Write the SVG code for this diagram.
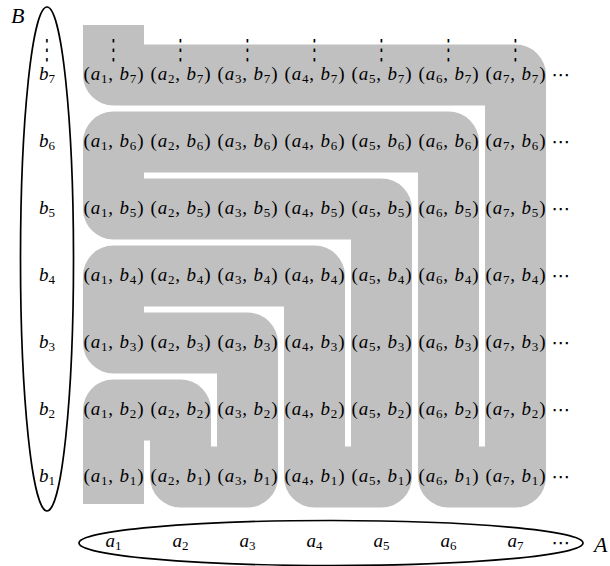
<svg xmlns="http://www.w3.org/2000/svg" width="610" height="566" viewBox="0 0 610 566">
<style>
.c{font-family:"Liberation Serif",serif;font-size:19px;text-anchor:middle;fill:#000}
.i{font-style:italic}
.s{font-size:13px;font-style:normal}
.d{font-family:"DejaVu Sans",sans-serif;font-size:16px;text-anchor:middle;fill:#000}
.h{font-family:"DejaVu Sans",sans-serif;font-size:19px;text-anchor:middle;fill:#000}
.big{font-family:"Liberation Serif",serif;font-size:22px;font-style:italic;fill:#000}
.ell{fill:none;stroke:#000;stroke-width:1.7}
</style>
<rect width="610" height="566" fill="#fff"/>
<g id="connectors">
<path id="band" d="M113.5,504 V410 H180.5 V477 H247.5 V343 H113.5 V276 H314.5 V477 H381.5 V209 H113.5 V142 H448.5 V477 H515.5 V75 H113.5 V25" fill="none" stroke="#c0c0c0" stroke-width="61" stroke-linejoin="round" stroke-linecap="butt"/>
</g>
<g id="setB">
<ellipse class="ell" cx="47" cy="259" rx="26.5" ry="252"/>
<text class="big" x="11" y="23">B</text>
<text class="d" transform="translate(47,0) scale(1,1.75)" x="0" y="33.6">⋮</text>
<text class="c" x="47" y="80"><tspan class="i">b</tspan><tspan class="s" dy="3">7</tspan></text>
<text class="c" x="47" y="147"><tspan class="i">b</tspan><tspan class="s" dy="3">6</tspan></text>
<text class="c" x="47" y="214"><tspan class="i">b</tspan><tspan class="s" dy="3">5</tspan></text>
<text class="c" x="47" y="281"><tspan class="i">b</tspan><tspan class="s" dy="3">4</tspan></text>
<text class="c" x="47" y="348"><tspan class="i">b</tspan><tspan class="s" dy="3">3</tspan></text>
<text class="c" x="47" y="415"><tspan class="i">b</tspan><tspan class="s" dy="3">2</tspan></text>
<text class="c" x="47" y="482"><tspan class="i">b</tspan><tspan class="s" dy="3">1</tspan></text>
</g>
<g id="setA">
<ellipse class="ell" cx="331" cy="543" rx="252" ry="22.5"/>
<text class="big" x="594" y="552">A</text>
<text class="c" x="113.5" y="547"><tspan class="i">a</tspan><tspan class="s" dy="3">1</tspan></text>
<text class="c" x="180.5" y="547"><tspan class="i">a</tspan><tspan class="s" dy="3">2</tspan></text>
<text class="c" x="247.5" y="547"><tspan class="i">a</tspan><tspan class="s" dy="3">3</tspan></text>
<text class="c" x="314.5" y="547"><tspan class="i">a</tspan><tspan class="s" dy="3">4</tspan></text>
<text class="c" x="381.5" y="547"><tspan class="i">a</tspan><tspan class="s" dy="3">5</tspan></text>
<text class="c" x="448.5" y="547"><tspan class="i">a</tspan><tspan class="s" dy="3">6</tspan></text>
<text class="c" x="515.5" y="547"><tspan class="i">a</tspan><tspan class="s" dy="3">7</tspan></text>
<text class="h" x="561" y="549">⋯</text>
</g>
<g id="topdots">
<text class="d" transform="translate(113.5,0) scale(1,1.75)" x="0" y="33.6">⋮</text>
<text class="d" transform="translate(180.5,0) scale(1,1.75)" x="0" y="33.6">⋮</text>
<text class="d" transform="translate(247.5,0) scale(1,1.75)" x="0" y="33.6">⋮</text>
<text class="d" transform="translate(314.5,0) scale(1,1.75)" x="0" y="33.6">⋮</text>
<text class="d" transform="translate(381.5,0) scale(1,1.75)" x="0" y="33.6">⋮</text>
<text class="d" transform="translate(448.5,0) scale(1,1.75)" x="0" y="33.6">⋮</text>
<text class="d" transform="translate(515.5,0) scale(1,1.75)" x="0" y="33.6">⋮</text>
</g>
<g id="rightdots">
<text class="h" x="561" y="81">⋯</text>
<text class="h" x="561" y="148">⋯</text>
<text class="h" x="561" y="215">⋯</text>
<text class="h" x="561" y="282">⋯</text>
<text class="h" x="561" y="349">⋯</text>
<text class="h" x="561" y="416">⋯</text>
<text class="h" x="561" y="483">⋯</text>
</g>
<g id="row7">
<text id="a1b7" class="c" x="113.5" y="80" textLength="60">(<tspan class="i">a</tspan><tspan class="s" dy="3">1</tspan><tspan dy="-3">, </tspan><tspan class="i">b</tspan><tspan class="s" dy="3">7</tspan><tspan dy="-3">)</tspan></text>
<text id="a2b7" class="c" x="180.5" y="80" textLength="60">(<tspan class="i">a</tspan><tspan class="s" dy="3">2</tspan><tspan dy="-3">, </tspan><tspan class="i">b</tspan><tspan class="s" dy="3">7</tspan><tspan dy="-3">)</tspan></text>
<text id="a3b7" class="c" x="247.5" y="80" textLength="60">(<tspan class="i">a</tspan><tspan class="s" dy="3">3</tspan><tspan dy="-3">, </tspan><tspan class="i">b</tspan><tspan class="s" dy="3">7</tspan><tspan dy="-3">)</tspan></text>
<text id="a4b7" class="c" x="314.5" y="80" textLength="60">(<tspan class="i">a</tspan><tspan class="s" dy="3">4</tspan><tspan dy="-3">, </tspan><tspan class="i">b</tspan><tspan class="s" dy="3">7</tspan><tspan dy="-3">)</tspan></text>
<text id="a5b7" class="c" x="381.5" y="80" textLength="60">(<tspan class="i">a</tspan><tspan class="s" dy="3">5</tspan><tspan dy="-3">, </tspan><tspan class="i">b</tspan><tspan class="s" dy="3">7</tspan><tspan dy="-3">)</tspan></text>
<text id="a6b7" class="c" x="448.5" y="80" textLength="60">(<tspan class="i">a</tspan><tspan class="s" dy="3">6</tspan><tspan dy="-3">, </tspan><tspan class="i">b</tspan><tspan class="s" dy="3">7</tspan><tspan dy="-3">)</tspan></text>
<text id="a7b7" class="c" x="515.5" y="80" textLength="60">(<tspan class="i">a</tspan><tspan class="s" dy="3">7</tspan><tspan dy="-3">, </tspan><tspan class="i">b</tspan><tspan class="s" dy="3">7</tspan><tspan dy="-3">)</tspan></text>
</g>
<g id="row6">
<text id="a1b6" class="c" x="113.5" y="147" textLength="60">(<tspan class="i">a</tspan><tspan class="s" dy="3">1</tspan><tspan dy="-3">, </tspan><tspan class="i">b</tspan><tspan class="s" dy="3">6</tspan><tspan dy="-3">)</tspan></text>
<text id="a2b6" class="c" x="180.5" y="147" textLength="60">(<tspan class="i">a</tspan><tspan class="s" dy="3">2</tspan><tspan dy="-3">, </tspan><tspan class="i">b</tspan><tspan class="s" dy="3">6</tspan><tspan dy="-3">)</tspan></text>
<text id="a3b6" class="c" x="247.5" y="147" textLength="60">(<tspan class="i">a</tspan><tspan class="s" dy="3">3</tspan><tspan dy="-3">, </tspan><tspan class="i">b</tspan><tspan class="s" dy="3">6</tspan><tspan dy="-3">)</tspan></text>
<text id="a4b6" class="c" x="314.5" y="147" textLength="60">(<tspan class="i">a</tspan><tspan class="s" dy="3">4</tspan><tspan dy="-3">, </tspan><tspan class="i">b</tspan><tspan class="s" dy="3">6</tspan><tspan dy="-3">)</tspan></text>
<text id="a5b6" class="c" x="381.5" y="147" textLength="60">(<tspan class="i">a</tspan><tspan class="s" dy="3">5</tspan><tspan dy="-3">, </tspan><tspan class="i">b</tspan><tspan class="s" dy="3">6</tspan><tspan dy="-3">)</tspan></text>
<text id="a6b6" class="c" x="448.5" y="147" textLength="60">(<tspan class="i">a</tspan><tspan class="s" dy="3">6</tspan><tspan dy="-3">, </tspan><tspan class="i">b</tspan><tspan class="s" dy="3">6</tspan><tspan dy="-3">)</tspan></text>
<text id="a7b6" class="c" x="515.5" y="147" textLength="60">(<tspan class="i">a</tspan><tspan class="s" dy="3">7</tspan><tspan dy="-3">, </tspan><tspan class="i">b</tspan><tspan class="s" dy="3">6</tspan><tspan dy="-3">)</tspan></text>
</g>
<g id="row5">
<text id="a1b5" class="c" x="113.5" y="214" textLength="60">(<tspan class="i">a</tspan><tspan class="s" dy="3">1</tspan><tspan dy="-3">, </tspan><tspan class="i">b</tspan><tspan class="s" dy="3">5</tspan><tspan dy="-3">)</tspan></text>
<text id="a2b5" class="c" x="180.5" y="214" textLength="60">(<tspan class="i">a</tspan><tspan class="s" dy="3">2</tspan><tspan dy="-3">, </tspan><tspan class="i">b</tspan><tspan class="s" dy="3">5</tspan><tspan dy="-3">)</tspan></text>
<text id="a3b5" class="c" x="247.5" y="214" textLength="60">(<tspan class="i">a</tspan><tspan class="s" dy="3">3</tspan><tspan dy="-3">, </tspan><tspan class="i">b</tspan><tspan class="s" dy="3">5</tspan><tspan dy="-3">)</tspan></text>
<text id="a4b5" class="c" x="314.5" y="214" textLength="60">(<tspan class="i">a</tspan><tspan class="s" dy="3">4</tspan><tspan dy="-3">, </tspan><tspan class="i">b</tspan><tspan class="s" dy="3">5</tspan><tspan dy="-3">)</tspan></text>
<text id="a5b5" class="c" x="381.5" y="214" textLength="60">(<tspan class="i">a</tspan><tspan class="s" dy="3">5</tspan><tspan dy="-3">, </tspan><tspan class="i">b</tspan><tspan class="s" dy="3">5</tspan><tspan dy="-3">)</tspan></text>
<text id="a6b5" class="c" x="448.5" y="214" textLength="60">(<tspan class="i">a</tspan><tspan class="s" dy="3">6</tspan><tspan dy="-3">, </tspan><tspan class="i">b</tspan><tspan class="s" dy="3">5</tspan><tspan dy="-3">)</tspan></text>
<text id="a7b5" class="c" x="515.5" y="214" textLength="60">(<tspan class="i">a</tspan><tspan class="s" dy="3">7</tspan><tspan dy="-3">, </tspan><tspan class="i">b</tspan><tspan class="s" dy="3">5</tspan><tspan dy="-3">)</tspan></text>
</g>
<g id="row4">
<text id="a1b4" class="c" x="113.5" y="281" textLength="60">(<tspan class="i">a</tspan><tspan class="s" dy="3">1</tspan><tspan dy="-3">, </tspan><tspan class="i">b</tspan><tspan class="s" dy="3">4</tspan><tspan dy="-3">)</tspan></text>
<text id="a2b4" class="c" x="180.5" y="281" textLength="60">(<tspan class="i">a</tspan><tspan class="s" dy="3">2</tspan><tspan dy="-3">, </tspan><tspan class="i">b</tspan><tspan class="s" dy="3">4</tspan><tspan dy="-3">)</tspan></text>
<text id="a3b4" class="c" x="247.5" y="281" textLength="60">(<tspan class="i">a</tspan><tspan class="s" dy="3">3</tspan><tspan dy="-3">, </tspan><tspan class="i">b</tspan><tspan class="s" dy="3">4</tspan><tspan dy="-3">)</tspan></text>
<text id="a4b4" class="c" x="314.5" y="281" textLength="60">(<tspan class="i">a</tspan><tspan class="s" dy="3">4</tspan><tspan dy="-3">, </tspan><tspan class="i">b</tspan><tspan class="s" dy="3">4</tspan><tspan dy="-3">)</tspan></text>
<text id="a5b4" class="c" x="381.5" y="281" textLength="60">(<tspan class="i">a</tspan><tspan class="s" dy="3">5</tspan><tspan dy="-3">, </tspan><tspan class="i">b</tspan><tspan class="s" dy="3">4</tspan><tspan dy="-3">)</tspan></text>
<text id="a6b4" class="c" x="448.5" y="281" textLength="60">(<tspan class="i">a</tspan><tspan class="s" dy="3">6</tspan><tspan dy="-3">, </tspan><tspan class="i">b</tspan><tspan class="s" dy="3">4</tspan><tspan dy="-3">)</tspan></text>
<text id="a7b4" class="c" x="515.5" y="281" textLength="60">(<tspan class="i">a</tspan><tspan class="s" dy="3">7</tspan><tspan dy="-3">, </tspan><tspan class="i">b</tspan><tspan class="s" dy="3">4</tspan><tspan dy="-3">)</tspan></text>
</g>
<g id="row3">
<text id="a1b3" class="c" x="113.5" y="348" textLength="60">(<tspan class="i">a</tspan><tspan class="s" dy="3">1</tspan><tspan dy="-3">, </tspan><tspan class="i">b</tspan><tspan class="s" dy="3">3</tspan><tspan dy="-3">)</tspan></text>
<text id="a2b3" class="c" x="180.5" y="348" textLength="60">(<tspan class="i">a</tspan><tspan class="s" dy="3">2</tspan><tspan dy="-3">, </tspan><tspan class="i">b</tspan><tspan class="s" dy="3">3</tspan><tspan dy="-3">)</tspan></text>
<text id="a3b3" class="c" x="247.5" y="348" textLength="60">(<tspan class="i">a</tspan><tspan class="s" dy="3">3</tspan><tspan dy="-3">, </tspan><tspan class="i">b</tspan><tspan class="s" dy="3">3</tspan><tspan dy="-3">)</tspan></text>
<text id="a4b3" class="c" x="314.5" y="348" textLength="60">(<tspan class="i">a</tspan><tspan class="s" dy="3">4</tspan><tspan dy="-3">, </tspan><tspan class="i">b</tspan><tspan class="s" dy="3">3</tspan><tspan dy="-3">)</tspan></text>
<text id="a5b3" class="c" x="381.5" y="348" textLength="60">(<tspan class="i">a</tspan><tspan class="s" dy="3">5</tspan><tspan dy="-3">, </tspan><tspan class="i">b</tspan><tspan class="s" dy="3">3</tspan><tspan dy="-3">)</tspan></text>
<text id="a6b3" class="c" x="448.5" y="348" textLength="60">(<tspan class="i">a</tspan><tspan class="s" dy="3">6</tspan><tspan dy="-3">, </tspan><tspan class="i">b</tspan><tspan class="s" dy="3">3</tspan><tspan dy="-3">)</tspan></text>
<text id="a7b3" class="c" x="515.5" y="348" textLength="60">(<tspan class="i">a</tspan><tspan class="s" dy="3">7</tspan><tspan dy="-3">, </tspan><tspan class="i">b</tspan><tspan class="s" dy="3">3</tspan><tspan dy="-3">)</tspan></text>
</g>
<g id="row2">
<text id="a1b2" class="c" x="113.5" y="415" textLength="60">(<tspan class="i">a</tspan><tspan class="s" dy="3">1</tspan><tspan dy="-3">, </tspan><tspan class="i">b</tspan><tspan class="s" dy="3">2</tspan><tspan dy="-3">)</tspan></text>
<text id="a2b2" class="c" x="180.5" y="415" textLength="60">(<tspan class="i">a</tspan><tspan class="s" dy="3">2</tspan><tspan dy="-3">, </tspan><tspan class="i">b</tspan><tspan class="s" dy="3">2</tspan><tspan dy="-3">)</tspan></text>
<text id="a3b2" class="c" x="247.5" y="415" textLength="60">(<tspan class="i">a</tspan><tspan class="s" dy="3">3</tspan><tspan dy="-3">, </tspan><tspan class="i">b</tspan><tspan class="s" dy="3">2</tspan><tspan dy="-3">)</tspan></text>
<text id="a4b2" class="c" x="314.5" y="415" textLength="60">(<tspan class="i">a</tspan><tspan class="s" dy="3">4</tspan><tspan dy="-3">, </tspan><tspan class="i">b</tspan><tspan class="s" dy="3">2</tspan><tspan dy="-3">)</tspan></text>
<text id="a5b2" class="c" x="381.5" y="415" textLength="60">(<tspan class="i">a</tspan><tspan class="s" dy="3">5</tspan><tspan dy="-3">, </tspan><tspan class="i">b</tspan><tspan class="s" dy="3">2</tspan><tspan dy="-3">)</tspan></text>
<text id="a6b2" class="c" x="448.5" y="415" textLength="60">(<tspan class="i">a</tspan><tspan class="s" dy="3">6</tspan><tspan dy="-3">, </tspan><tspan class="i">b</tspan><tspan class="s" dy="3">2</tspan><tspan dy="-3">)</tspan></text>
<text id="a7b2" class="c" x="515.5" y="415" textLength="60">(<tspan class="i">a</tspan><tspan class="s" dy="3">7</tspan><tspan dy="-3">, </tspan><tspan class="i">b</tspan><tspan class="s" dy="3">2</tspan><tspan dy="-3">)</tspan></text>
</g>
<g id="row1">
<text id="a1b1" class="c" x="113.5" y="482" textLength="60">(<tspan class="i">a</tspan><tspan class="s" dy="3">1</tspan><tspan dy="-3">, </tspan><tspan class="i">b</tspan><tspan class="s" dy="3">1</tspan><tspan dy="-3">)</tspan></text>
<text id="a2b1" class="c" x="180.5" y="482" textLength="60">(<tspan class="i">a</tspan><tspan class="s" dy="3">2</tspan><tspan dy="-3">, </tspan><tspan class="i">b</tspan><tspan class="s" dy="3">1</tspan><tspan dy="-3">)</tspan></text>
<text id="a3b1" class="c" x="247.5" y="482" textLength="60">(<tspan class="i">a</tspan><tspan class="s" dy="3">3</tspan><tspan dy="-3">, </tspan><tspan class="i">b</tspan><tspan class="s" dy="3">1</tspan><tspan dy="-3">)</tspan></text>
<text id="a4b1" class="c" x="314.5" y="482" textLength="60">(<tspan class="i">a</tspan><tspan class="s" dy="3">4</tspan><tspan dy="-3">, </tspan><tspan class="i">b</tspan><tspan class="s" dy="3">1</tspan><tspan dy="-3">)</tspan></text>
<text id="a5b1" class="c" x="381.5" y="482" textLength="60">(<tspan class="i">a</tspan><tspan class="s" dy="3">5</tspan><tspan dy="-3">, </tspan><tspan class="i">b</tspan><tspan class="s" dy="3">1</tspan><tspan dy="-3">)</tspan></text>
<text id="a6b1" class="c" x="448.5" y="482" textLength="60">(<tspan class="i">a</tspan><tspan class="s" dy="3">6</tspan><tspan dy="-3">, </tspan><tspan class="i">b</tspan><tspan class="s" dy="3">1</tspan><tspan dy="-3">)</tspan></text>
<text id="a7b1" class="c" x="515.5" y="482" textLength="60">(<tspan class="i">a</tspan><tspan class="s" dy="3">7</tspan><tspan dy="-3">, </tspan><tspan class="i">b</tspan><tspan class="s" dy="3">1</tspan><tspan dy="-3">)</tspan></text>
</g>
</svg>
